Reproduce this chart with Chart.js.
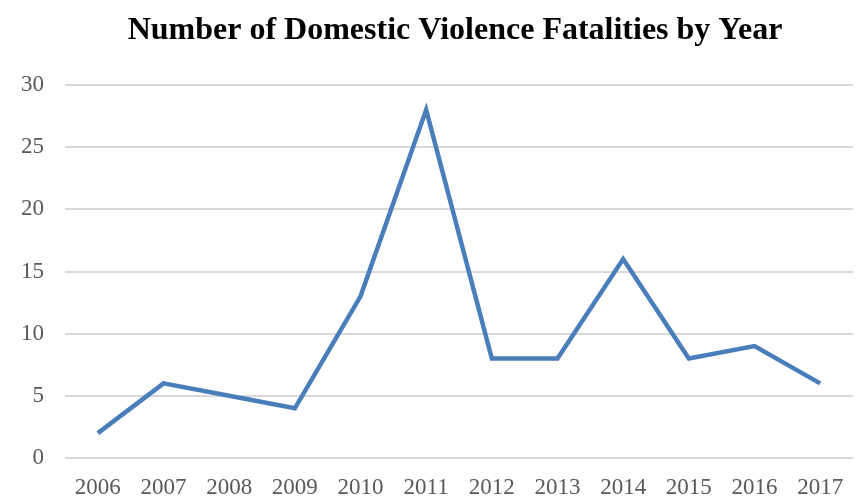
<!DOCTYPE html>
<html>
<head>
<meta charset="utf-8">
<script src="https://cdn.jsdelivr.net/npm/chart.js@4"></script>
<style>
  body { margin: 0; background: #fff; }
</style>
</head>
<body>
<canvas id="chart" width="856" height="502"></canvas>
<script>
const years = ['2006', '2007', '2008', '2009', '2010', '2011', '2012', '2013', '2014', '2015', '2016', '2017'];
const fatalities = [2, 6, 5, 4, 13, 28, 8, 8, 16, 8, 9, 6];
const yTicks = [0, 5, 10, 15, 20, 25, 30];
const chartTitle = 'Number of Domestic Violence Fatalities by Year';

const serif = '"Liberation Serif", "Times New Roman", serif';

// title sits a bit right of the canvas centre in the original, so draw it ourselves
const titlePlugin = {
  id: 'offsetTitle',
  afterDraw(chart) {
    const ctx = chart.ctx;
    ctx.save();
    ctx.font = 'bold 32px ' + serif;
    ctx.fillStyle = '#000';
    ctx.textAlign = 'center';
    ctx.textBaseline = 'middle';
    ctx.fillText(chartTitle, 455, 31);
    ctx.restore();
  }
};

new Chart(document.getElementById('chart'), {
  type: 'line',
  data: {
    labels: years,
    datasets: [{
      label: 'Fatalities',
      data: fatalities,
      borderColor: '#4A7EBB',
      borderWidth: 4.5,
      pointRadius: 0,
      tension: 0,
      fill: false
    }]
  },
  plugins: [titlePlugin],
  options: {
    responsive: false,
    animation: false,
    layout: { padding: { left: 0, right: 3, top: 85, bottom: 0 } },
    plugins: {
      legend: { display: false },
      tooltip: { enabled: false },
      title: { display: false }
    },
    scales: {
      x: {
        offset: true,
        afterFit: (scale) => {
          scale.height = 44;
          scale.paddingLeft = 0;
          scale.paddingRight = 0;
        },
        grid: { display: false, drawTicks: false },
        border: { display: false },
        ticks: {
          color: '#595959',
          font: { family: serif, size: 23 },
          padding: 16,
          maxRotation: 0,
          autoSkip: false
        }
      },
      y: {
        min: 0,
        max: 30,
        afterFit: (scale) => { scale.width = 65; },
        afterBuildTicks: (scale) => { scale.ticks = yTicks.map(v => ({ value: v })); },
        grid: { color: '#D9D9D9', lineWidth: 2, drawTicks: false },
        border: { display: false },
        ticks: {
          color: '#595959',
          font: { family: serif, size: 23 },
          padding: 21
        }
      }
    }
  }
});
</script>
</body>
</html>
